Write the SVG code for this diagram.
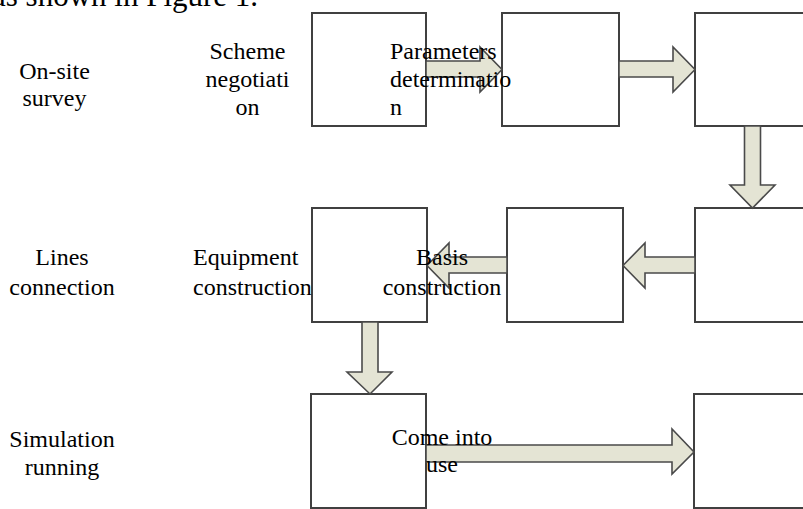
<svg xmlns="http://www.w3.org/2000/svg" width="803" height="509" viewBox="0 0 803 509">
<style>
.box{fill:#ffffff;stroke:#404040;stroke-width:2}
.arr{fill:#e4e4d4;stroke:#4a4a4a;stroke-width:1.6;stroke-linejoin:miter}
.t{font-family:"Liberation Serif","Times New Roman",serif;font-size:24px;fill:#000}
.c{text-anchor:middle}
</style>
<rect width="803" height="509" fill="#ffffff"/>
<text x="-8" y="6" font-family="Liberation Serif, Times New Roman, serif" font-size="31" fill="#000">as shown in Figure 1.</text>
<g id="nodes">
<g id="box1"><rect class="box" x="312" y="13" width="114" height="113"/></g>
<g id="box2"><rect class="box" x="502" y="13" width="117" height="113"/></g>
<g id="box3"><rect class="box" x="695" y="13" width="120" height="113"/></g>
<g id="box4"><rect class="box" x="312" y="208" width="115" height="114"/></g>
<g id="box5"><rect class="box" x="507" y="208" width="116" height="114"/></g>
<g id="box6"><rect class="box" x="695" y="208" width="120" height="114"/></g>
<g id="box7"><rect class="box" x="311" y="394" width="115" height="114"/></g>
<g id="box8"><rect class="box" x="694" y="394" width="120" height="114"/></g>
</g>
<g id="connectors">
<polygon class="arr" points="426,61 480,61 480,47 502,69.5 480,92 480,77 426,77"/>
<polygon class="arr" points="619,61 673,61 673,47 695,69.5 673,92 673,77 619,77"/>
<polygon class="arr" points="744.5,126 760.5,126 760.5,185 775,185 752.5,208 730,185 744.5,185"/>
<polygon class="arr" points="695,257 645,257 645,243 623,265.5 645,288 645,273 695,273"/>
<polygon class="arr" points="507,257 449,257 449,243 427,265.5 449,288 449,273 507,273"/>
<polygon class="arr" points="362,322 378,322 378,372 392,372 370,394 347,372 362,372"/>
<polygon class="arr" points="426,445 672,445 672,429 694,452 672,474 672,462 426,462"/>
</g>
<g id="label-onsite"><text class="t c" x="54.5" y="79">On-site</text><text class="t c" x="54.5" y="106">survey</text></g>
<g id="label-scheme"><text class="t c" x="247.5" y="59">Scheme</text><text class="t c" x="247.5" y="87">negotiati</text><text class="t c" x="247.5" y="115">on</text></g>
<g id="label-parameters"><text class="t" x="390" y="59">Parameters</text><text class="t" x="390" y="87">determinatio</text><text class="t" x="390" y="115">n</text></g>
<g id="label-lines"><text class="t c" x="62" y="265">Lines</text><text class="t c" x="62" y="295">connection</text></g>
<g id="label-equipment"><text class="t" x="193" y="265">Equipment</text><text class="t" x="193" y="295">construction</text></g>
<g id="label-basis"><text class="t c" x="442" y="265">Basis</text><text class="t c" x="442" y="295">construction</text></g>
<g id="label-simulation"><text class="t c" x="62" y="447">Simulation</text><text class="t c" x="62" y="475">running</text></g>
<g id="label-come"><text class="t c" x="442" y="445">Come into</text><text class="t c" x="442" y="472">use</text></g>
</svg>
